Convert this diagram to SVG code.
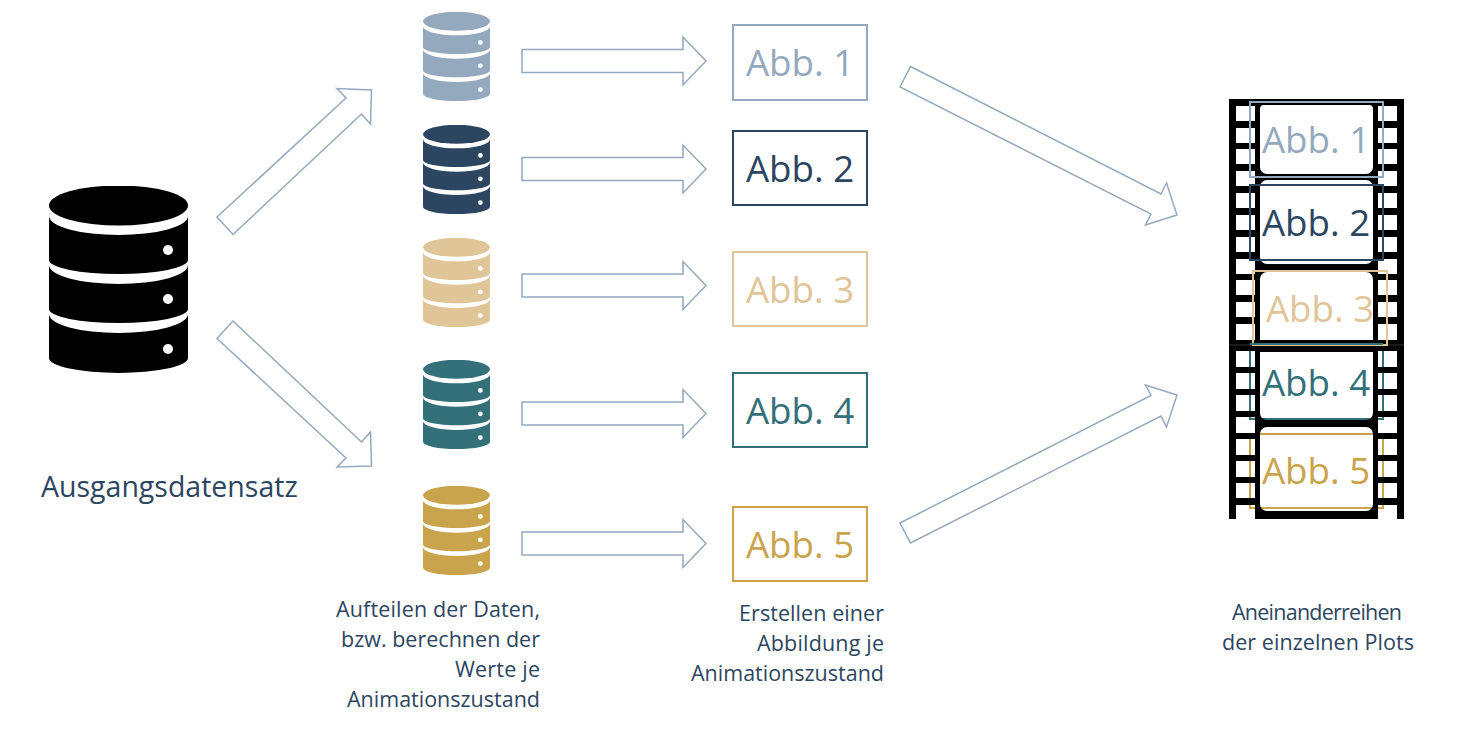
<svg xmlns="http://www.w3.org/2000/svg" width="1466" height="730" viewBox="0 0 1466 730">
<style>
text{font-family:"Open Sans","Noto Sans","Liberation Sans",sans-serif}
.arrow{fill:#fff;stroke:#94a9be;stroke-width:1.5;stroke-linejoin:miter}
.box{fill:none;stroke-width:2}
.abb{font-size:36.7px;text-anchor:middle}
.cap{font-size:21.5px;fill:#2c4661}
.c1{fill:#94a9be}.c2{fill:#2c4661}.c3{fill:#e0c598}.c4{fill:#33707a}.c5{fill:#c9a44c}
.s1{stroke:#94a9be}.s2{stroke:#2c4661}.s3{stroke:#e0c598}.s4{stroke:#33707a}.s5{stroke:#c9a44c}
.strip{fill:#000;fill-rule:evenodd}
</style>
<defs>
<symbol id="db" viewBox="0 0 139 187" preserveAspectRatio="none">
<ellipse cx="69.5" cy="19.5" rx="69.5" ry="20"/>
<path d="M0 30A69.5 19 0 0 0 139 30V74A69.5 14 0 0 1 0 74Z"/>
<path d="M0 79A69.5 19 0 0 0 139 79V123A69.5 14 0 0 1 0 123Z"/>
<path d="M0 128A69.5 19 0 0 0 139 128V172A69.5 15 0 0 1 0 172Z"/>
<circle cx="119" cy="64" r="5" fill="#fff"/><circle cx="119" cy="113" r="5" fill="#fff"/><circle cx="119" cy="163" r="5" fill="#fff"/>
</symbol>
<path id="harrow" class="arrow" d="M522 49.5H683V37L706 61L683 85V72.5H522Z"/>
</defs>
<rect width="1466" height="730" fill="#fff"/>

<g id="connectors">
<polygon class="arrow" points="217,217 346,98 337,88.5 371.5,90 370.5,124 361.5,114 233,234.5"/>
<polygon class="arrow" points="233,321 361.5,442 370.5,432 371.5,466 337,467 346,458 217,338.5"/>
<use href="#harrow"/>
<use href="#harrow" y="108"/>
<use href="#harrow" y="224.5"/>
<use href="#harrow" y="352.5"/>
<use href="#harrow" y="482.5"/>
<polygon class="arrow" points="910.5,66.5 1161,194 1166.5,183 1177,215 1145.5,225 1151,214 900,87"/>
<polygon class="arrow" points="900,523 1151,395.5 1145.5,385 1177,395 1166.5,427 1161,416 910.5,543"/>
</g>

<g id="source">
<use href="#db" x="49" y="186" width="139" height="187" fill="#000"/>
<text x="41" y="497" font-size="28.5" fill="#2c4661">Ausgangsdatensatz</text>
</g>

<g id="data1" class="c1"><use href="#db" x="423" y="12" width="67" height="89"/></g>
<g id="data2" class="c2"><use href="#db" x="423" y="125" width="67" height="89"/></g>
<g id="data3" class="c3"><use href="#db" x="423" y="238" width="67" height="89"/></g>
<g id="data4" class="c4"><use href="#db" x="423" y="360" width="67" height="89"/></g>
<g id="data5" class="c5"><use href="#db" x="423" y="486" width="67" height="89"/></g>

<g id="plot1"><rect class="box s1" x="733" y="25" width="134" height="75"/><text class="abb c1" x="800" y="76">Abb. 1</text></g>
<g id="plot2"><rect class="box s2" x="733" y="131" width="134" height="74"/><text class="abb c2" x="800" y="182">Abb. 2</text></g>
<g id="plot3"><rect class="box s3" x="733" y="252" width="134" height="74"/><text class="abb c3" x="800" y="303">Abb. 3</text></g>
<g id="plot4"><rect class="box s4" x="733" y="373" width="134" height="74"/><text class="abb c4" x="800" y="424">Abb. 4</text></g>
<g id="plot5"><rect class="box s5" x="733" y="507" width="134" height="74"/><text class="abb c5" x="800" y="558">Abb. 5</text></g>

<g id="film">
<rect class="box s4" x="1250" y="344" width="133" height="75"/>
<rect class="box s5" x="1250" y="434" width="133" height="74"/>
<path class="strip" d="M1229 345H1404V519H1229Z
M1236 351h19v16h-19ZM1236 373h19v16h-19ZM1236 395h19v16h-19ZM1236 417h19v16h-19ZM1236 439h19v16h-19ZM1236 461h19v16h-19ZM1236 483h19v15h-19ZM1236 505h19v14h-19Z
M1378 351h19v16h-19ZM1378 373h19v16h-19ZM1378 395h19v16h-19ZM1378 417h19v16h-19ZM1378 439h19v16h-19ZM1378 461h19v16h-19ZM1378 483h19v15h-19ZM1378 505h19v14h-19Z
M1260 352H1373V413a7 7 0 0 1 -7 7H1267a7 7 0 0 1 -7 -7Z
M1267 427H1366a7 7 0 0 1 7 7V504a7 7 0 0 1 -7 7H1267a7 7 0 0 1 -7 -7V434a7 7 0 0 1 7 -7Z"/>
<path class="strip" d="M1229 99H1404V345H1229Z
M1236 106h19v15h-19ZM1236 128h19v15h-19ZM1236 149h19v15h-19ZM1236 171h19v15h-19ZM1236 193h19v15h-19ZM1236 215h19v15h-19ZM1236 237h19v15h-19ZM1236 259h19v15h-19ZM1236 280h19v15h-19ZM1236 302h19v15h-19ZM1236 324h19v16h-19Z
M1378 106h19v15h-19ZM1378 128h19v15h-19ZM1378 149h19v15h-19ZM1378 171h19v15h-19ZM1378 193h19v15h-19ZM1378 215h19v15h-19ZM1378 237h19v15h-19ZM1378 259h19v15h-19ZM1378 280h19v15h-19ZM1378 302h19v15h-19ZM1378 324h19v16h-19Z
M1264 105H1369a4 4 0 0 1 4 4V167a7 7 0 0 1 -7 7H1267a7 7 0 0 1 -7 -7V109a4 4 0 0 1 4 -4Z
M1267 180H1366a7 7 0 0 1 7 7V257a7 7 0 0 1 -7 7H1267a7 7 0 0 1 -7 -7V187a7 7 0 0 1 7 -7Z
M1267 272H1366a7 7 0 0 1 7 7V340H1260V279a7 7 0 0 1 7 -7Z"/>
<line x1="1229" y1="345" x2="1404" y2="345" stroke="#333" stroke-width="1"/>
<rect class="box s1" x="1250" y="102" width="133" height="75"/>
<rect class="box s2" x="1250" y="185" width="133" height="75"/>
<rect class="box s3" x="1253" y="271" width="134" height="74"/>
<line class="s4" x1="1250" y1="344" x2="1383" y2="344" stroke-width="2"/>
<text class="abb c1" x="1316" y="153">Abb. 1</text>
<text class="abb c2" x="1316" y="236">Abb. 2</text>
<text class="abb c3" x="1320" y="322">Abb. 3</text>
<text class="abb c4" x="1316" y="396">Abb. 4</text>
<text class="abb c5" x="1316" y="484">Abb. 5</text>
</g>

<g id="captions">
<text class="cap" x="336" y="617" textLength="204">Aufteilen der Daten,</text>
<text class="cap" x="341" y="647" textLength="199">bzw. berechnen der</text>
<text class="cap" x="455" y="677" textLength="85">Werte je</text>
<text class="cap" x="347" y="707" textLength="193">Animationszustand</text>
<text class="cap" x="739" y="621" textLength="145">Erstellen einer</text>
<text class="cap" x="757" y="651" textLength="127">Abbildung je</text>
<text class="cap" x="691" y="681" textLength="193">Animationszustand</text>
<text class="cap" x="1232" y="620" textLength="170">Aneinanderreihen</text>
<text class="cap" x="1222" y="650" textLength="192">der einzelnen Plots</text>
</g>
</svg>
